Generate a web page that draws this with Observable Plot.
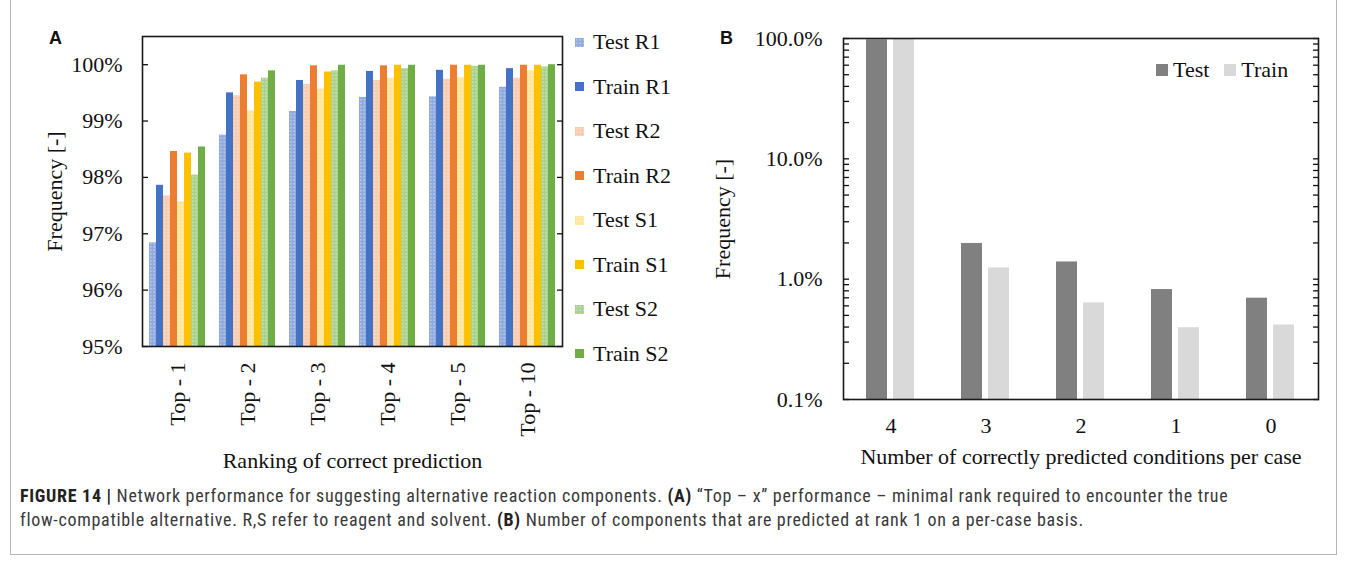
<!DOCTYPE html>
<html><head><meta charset="utf-8">
<script src="https://cdn.jsdelivr.net/npm/d3@7"></script>
<script src="https://cdn.jsdelivr.net/npm/@observablehq/plot@0.6"></script>
<style>
body{margin:0;background:#fff;}
#fig{position:relative;width:1348px;height:563px;overflow:hidden;font-family:"Liberation Serif","Times New Roman",serif;color:#111;}
#box{position:absolute;left:10px;top:-2px;width:1327px;height:557px;border:1px solid #b5b5b5;box-sizing:border-box;}
.panel{position:absolute;top:0;}
.tag{position:absolute;font-family:"Liberation Sans",Arial,sans-serif;font-weight:bold;font-size:18px;color:#111;line-height:1;}
#legA{position:absolute;left:575px;top:20px;font-size:22px;}
#legA .row{height:44.5px;display:flex;align-items:center;}
#legA svg{margin-right:9px;}
#legB{position:absolute;left:1156px;top:57px;font-size:22px;display:flex;align-items:center;}
#legB span.sw{display:inline-block;width:12px;height:12px;margin-right:5px;}
#cap{position:absolute;left:20px;top:484px;font-family:"Liberation Sans Narrow","Arial Narrow","Roboto Condensed",sans-serif;font-size:18px;letter-spacing:0.7px;line-height:24px;color:#3a3a3a;white-space:nowrap;}
#cap b{color:#222;}
</style></head><body><div id="fig">
<div id="box"></div>
<div class="panel" id="pA" style="left:0"></div>
<div class="panel" id="pB" style="left:700px"></div>
<div class="tag" style="left:49px;top:29px">A</div>
<div class="tag" style="left:720px;top:29px">B</div>
<div id="legA"></div>
<div id="legB"></div>
<div id="cap"><b>FIGURE 14 |</b> Network performance for suggesting alternative reaction components. <b>(A)</b> “Top – x” performance – minimal rank required to encounter the true<br>flow-compatible alternative. R,S refer to reagent and solvent. <b>(B)</b> Number of components that are predicted at rank 1 on a per-case basis.</div>
</div>
<script>
// ---------- Panel A data ----------
const categoriesA = ["Top - 1", "Top - 2", "Top - 3", "Top - 4", "Top - 5", "Top - 10"];
const seriesA = ["Test R1", "Train R1", "Test R2", "Train R2", "Test S1", "Train S1", "Test S2", "Train S2"];
const testR1  = [96.84, 98.75, 99.17, 99.42, 99.43, 99.60];
const trainR1 = [97.86, 99.50, 99.72, 99.88, 99.90, 99.93];
const testR2  = [97.67, 99.45, 99.65, 99.72, 99.74, 99.76];
const trainR2 = [98.46, 99.82, 99.98, 99.98, 99.99, 99.99];
const testS1  = [97.57, 99.18, 99.57, 99.76, 99.77, 99.89];
const trainS1 = [98.43, 99.69, 99.87, 99.99, 99.99, 99.99];
const testS2  = [98.04, 99.76, 99.89, 99.93, 99.97, 99.96];
const trainS2 = [98.54, 99.89, 99.99, 99.99, 99.99, 100.0];
const ticksA = [95, 96, 97, 98, 99, 100];
const colorsA = ["#8FAADC", "#4472C4", "#F8CBAD", "#ED7D31", "#FFE699", "#FFC000", "#A9D18E", "#70AD47"];

// ---------- Panel B data ----------
const categoriesB = ["4", "3", "2", "1", "0"];
const setsB = ["Test", "Train"];
const testB  = [97.5, 1.98, 1.39, 0.82, 0.695];
const trainB = [99.0, 1.24, 0.635, 0.395, 0.416];
const decadeTicksB = [0.1, 1, 10, 100];
const minorTicksB = [0.1,0.2,0.3,0.4,0.5,0.6,0.7,0.8,0.9,1,2,3,4,5,6,7,8,9,10,20,30,40,50,60,70,80,90,100];
const colorsB = ["#808080", "#D9D9D9"];

const valuesA = [testR1, trainR1, testR2, trainR2, testS1, trainS1, testS2, trainS2];
const rowsA = [];
seriesA.forEach((s, i) => categoriesA.forEach((c, j) => rowsA.push({cat: c, series: s, value: valuesA[i][j]})));
const fillsA = seriesA.map((s, i) => s.startsWith("Test") ? `url(#patA${i})` : colorsA[i]);

const rowsB = [];
[testB, trainB].forEach((arr, i) => categoriesB.forEach((c, j) => rowsB.push({cond: c, set: setsB[i], value: arr[j]})));

const font = "'Liberation Serif', 'Times New Roman', serif";
const frameStyle = {stroke: "#1a1a1a", strokeWidth: 1.6};

const plotA = Plot.plot({
  width: 570, height: 480,
  marginLeft: 140, marginRight: 7, marginTop: 36, marginBottom: 134,
  style: {fontFamily: font, fontSize: "22px", color: "#111", background: "transparent", overflow: "visible"},
  fx: {domain: categoriesA, padding: 0, label: null},
  x: {domain: seriesA, paddingInner: 0, paddingOuter: 1, axis: null},
  y: {domain: [95, 100.5]},
  color: {domain: seriesA, range: fillsA},
  marks: [
    Plot.barY(rowsA, {fx: "cat", x: "series", y1: 95, y2: "value", fill: "series"}),
    Plot.axisFx({anchor: "bottom", tickSize: 0, tickPadding: 16, tickRotate: -90, label: "Ranking of correct prediction", labelAnchor: "center", labelOffset: 121, labelArrow: "none"}),
    Plot.axisY({anchor: "left", ticks: ticksA, tickSize: 6, dx: 6, tickFormat: () => "", label: null, strokeWidth: 1.3}),
    Plot.axisY({anchor: "left", ticks: ticksA, tickSize: 0, tickPadding: 20, tickFormat: d => d + "%", label: "Frequency [-]", labelAnchor: "center", labelOffset: 96, labelArrow: "none"}),
    Plot.axisY({anchor: "right", ticks: ticksA, tickSize: 6, dx: -6, tickFormat: () => "", label: null, strokeWidth: 1.3}),
    Plot.frame({facet: "super", ...frameStyle})
  ]
});

const plotB = Plot.plot({
  width: 640, height: 480,
  marginLeft: 141, marginRight: 20, marginTop: 38, marginBottom: 81,
  style: {fontFamily: font, fontSize: "22px", color: "#111", background: "transparent", overflow: "visible"},
  fx: {domain: categoriesB, padding: 0, label: null},
  x: {domain: setsB, paddingInner: 0.218, paddingOuter: 0.855, axis: null},
  y: {type: "log", domain: [0.1, 100]},
  color: {domain: setsB, range: colorsB},
  marks: [
    Plot.barY(rowsB, {fx: "cond", x: "set", y1: 0.1, y2: "value", fill: "set"}),
    Plot.axisFx({anchor: "bottom", tickSize: 0, tickPadding: 18, label: "Number of correctly predicted conditions per case", labelAnchor: "center", labelOffset: 64, labelArrow: "none"}),
    Plot.axisY({anchor: "left", ticks: minorTicksB, tickSize: 6, dx: 6, tickFormat: () => "", label: null, strokeWidth: 1.3}),
    Plot.axisY({anchor: "left", ticks: decadeTicksB, tickSize: 0, tickPadding: 21, tickFormat: d => d.toFixed(1) + "%", label: "Frequency [-]", labelAnchor: "center", labelOffset: 129, labelArrow: "none"}),
    Plot.axisY({anchor: "right", ticks: minorTicksB, tickSize: 6, dx: -6, tickFormat: () => "", label: null, strokeWidth: 1.3}),
    Plot.frame({facet: "super", ...frameStyle})
  ]
});

// dotted patterns for the "Test" series
function addPatterns(svgSel) {
  const defs = svgSel.insert("defs", ":first-child");
  seriesA.forEach((s, i) => {
    if (!s.startsWith("Test")) return;
    const p = defs.append("pattern").attr("id", `patA${i}`).attr("patternUnits", "userSpaceOnUse")
      .attr("width", 3.5).attr("height", 3.5);
    p.append("rect").attr("width", 3.5).attr("height", 3.5).attr("fill", colorsA[i]);
    p.append("circle").attr("cx", 1.75).attr("cy", 1.75).attr("r", 0.7).attr("fill", "#fff").attr("fill-opacity", 0.75);
  });
}
addPatterns(d3.select(plotA));
document.getElementById("pA").appendChild(plotA);
document.getElementById("pB").appendChild(plotB);

// legend A
const legA = d3.select("#legA");
seriesA.forEach((s, i) => {
  const row = legA.append("div").attr("class", "row");
  const sv = row.append("svg").attr("width", 9).attr("height", 9);
  sv.append("rect").attr("width", 9).attr("height", 9).attr("fill", fillsA[i]);
  row.append("span").text(s);
});
// legend B
const legB = d3.select("#legB");
setsB.forEach((s, i) => {
  legB.append("span").attr("class", "sw").style("background", colorsB[i]);
  legB.append("span").text(s).style("margin-right", i === 0 ? "15px" : "0");
});
</script>
</body></html>
